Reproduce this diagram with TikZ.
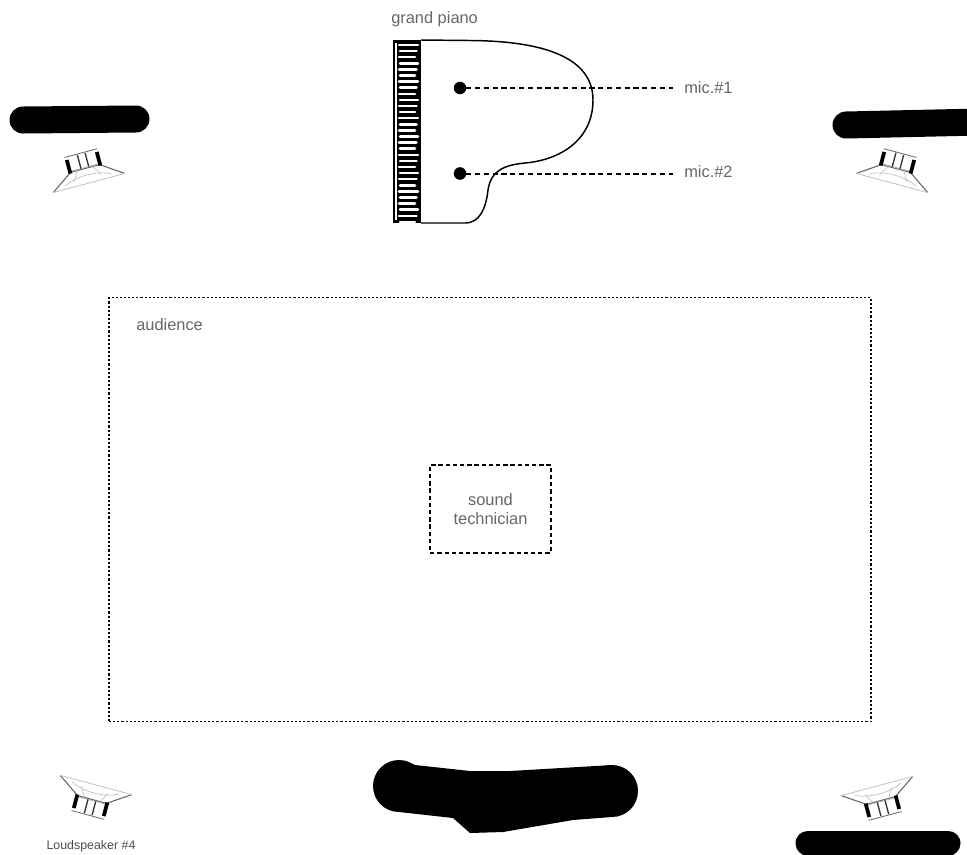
\documentclass[tikz,border=0pt]{standalone}
\usepackage{fontspec}
\setmainfont{Liberation Sans}
\definecolor{labelgray}{gray}{0.4}
\tikzset{
  label text/.style={text=labelgray, font=\fontsize{12.3}{14.5}\selectfont, align=center, inner sep=0pt},
  mic dot/.style={draw, circle, fill=black, minimum size=9pt, inner sep=0pt},
  mic line/.style={line width=1.5pt, dash pattern=on 3.8pt off 2.8pt},
  blob/.style={line width=#1*0.75pt, line cap=round},
  speaker/.pic={
    % cone
    \draw[line width=0.8pt, black!60, line join=round] (-37,0) -- (-15,-15) -- (15,-15) -- (37,0);
    \draw[line width=0.6pt, black!25] (-37,0) -- (37,0);
    \draw[line width=0.5pt, black!25] (-24,-3) .. controls (-12,-10) and (12,-10) .. (24,-3);
    \draw[line width=0.5pt, black!25] (-8,-15) -- (-14,-5) (8,-15) -- (14,-5);
    % magnet
    \draw[line width=0.6pt, black!60] (-17,-31) -- (17,-31);
    \draw[line width=0.6pt, black!30] (-17,-16) -- (17,-16);
    \draw[line width=2.8pt] (-15.5,-28) -- (-15.5,-14);
    \draw[line width=2.8pt] (15.5,-28) -- (15.5,-14);
    \draw[line width=1pt, black!80] (-4,-30) -- (-4,-16);
    \draw[line width=1pt, black!80] (4,-30) -- (4,-16);
  },
}
\begin{document}
\begin{tikzpicture}[x=0.75pt, y=-0.75pt]
  \useasboundingbox (0,0) rectangle (967,854);
  \clip (0,0) rectangle (967,854);

  % Define the piano
  \fill (393,40) rectangle (421,223);
  \foreach \k in {0,...,29} {
    \draw[white, line width=1.9pt, line cap=round] ({399+mod(\k,2)},{45+6.1*\k}) -- ({418-mod(\k,3)*1.5},{45+6.1*\k});
  }
  \draw[white, line width=0.8pt] (396,43) -- (396,220);
  \draw[line width=1.1pt] (421,40) -- (470,40.5)
    .. controls (545,41) and (593,58) .. (593,100)
    .. controls (593,140) and (560,160) .. (525,163)
    .. controls (505,165) and (491,170) .. (488,190)
    .. controls (486,208) and (480,223) .. (465,223)
    -- (421,223);
  \node[label text, anchor=west] (pianolabel) at (391,19) {grand piano};

  % Define the mics
  \node[mic dot] (micA) at (460,88) {};
  \node[mic dot] (micB) at (460,173.5) {};
  \node[label text, anchor=west] (labelA) at (684,88) {mic.\#1};
  \node[label text, anchor=west] (labelB) at (684,172) {mic.\#2};
  \coordinate (endA) at (673,88);
  \coordinate (endB) at (673,173.5);
  \draw[mic line] (micA) -- (endA);
  \draw[mic line] (micB) -- (endB);

  % Define the audience area
  \node[draw, line width=0.85pt, dash pattern=on 1.6pt off 1.5pt, minimum width=571.5pt, minimum height=317.5pt, inner sep=0pt] (audience) at (490,509.5) {};
  \node[label text, anchor=west] (audiencelabel) at (136,325) {audience};
  \node[draw, label text, draw=black, line width=1.7pt, dash pattern=on 3.2pt off 2.2pt, minimum width=90.5pt, minimum height=66pt] (technician) at (490.5,509) {sound\\technician};

  % Define the loudspeakers
  \pic[rotate=15] at (89,183) {speaker};
  \pic[rotate=-15] at (892,183) {speaker};
  \pic[rotate=165] at (96,785) {speaker};
  \pic[rotate=195] at (877,786) {speaker};
  \node[label text, font=\fontsize{9.3}{11}\selectfont, text=black!70] (speakerlabel) at (91,846) {Loudspeaker \#4};

  % Black patches
  \draw[blob=27] (23,120) -- (136,119);
  \draw[blob=27] (846,125) -- (980,122);
  \draw[blob=25] (808,843) -- (948,843);
  \fill (399,786) circle[radius=26];
  \fill (612,791) circle[radius=26];
  \fill (405,761) -- (415,765) -- (470,771) -- (510,771) -- (612,765) -- (612,817) -- (573,820) -- (503,832) -- (470,833) -- (453,818) -- (399,812) -- cycle;
\end{tikzpicture}
\end{document}
